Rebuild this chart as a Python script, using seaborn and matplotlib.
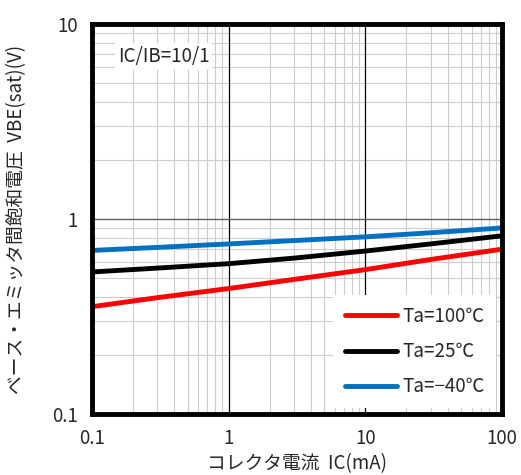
import numpy as np
import pandas as pd
import matplotlib
matplotlib.use('Agg')
import matplotlib.pyplot as plt
import seaborn as sns
from matplotlib.ticker import LogLocator, NullFormatter

# Values
ic_ma = [0.1, 0.3, 1, 3, 10, 30, 100]
vbe_100 = [0.355, 0.395, 0.44, 0.49, 0.55, 0.62, 0.70]
vbe_25 = [0.535, 0.56, 0.59, 0.63, 0.685, 0.745, 0.82]
vbe_m40 = [0.69, 0.715, 0.745, 0.775, 0.81, 0.85, 0.90]
labels = ['Ta=100℃', 'Ta=25℃', 'Ta=−40℃']
colors = ['#ff0000', '#000000', '#0070c0']

df = pd.DataFrame({
    'IC': ic_ma * 3,
    'VBE': vbe_100 + vbe_25 + vbe_m40,
    'Ta': sum([[l] * len(ic_ma) for l in labels], []),
})

sns.set_style('white')
plt.rcParams['font.family'] = ['Noto Sans CJK JP', 'DejaVu Sans']

fig = plt.figure(figsize=(5.21, 4.75), dpi=100)
ax = fig.add_axes([92 / 521, 61 / 475, 410 / 521, 390 / 475])

ax.set_xscale('log')
ax.set_yscale('log')
ax.set_xlim(0.1, 100)
ax.set_ylim(0.1, 10)

# grid
ax.xaxis.set_minor_locator(LogLocator(base=10, subs=np.arange(2, 10)))
ax.yaxis.set_minor_locator(LogLocator(base=10, subs=np.arange(2, 10)))
ax.xaxis.set_minor_formatter(NullFormatter())
ax.yaxis.set_minor_formatter(NullFormatter())
ax.grid(which='minor', color='#cccccc', linewidth=0.8)
for v in [1, 10]:
    ax.axvline(v, color='black', linewidth=0.9, zorder=1)
ax.axhline(1, color='#606060', linewidth=1.0, zorder=1)

sns.lineplot(data=df, x='IC', y='VBE', hue='Ta', palette=colors,
             linewidth=3.5, ax=ax, zorder=3)

ax.set_xticks([0.1, 1, 10, 100])
ax.set_xticklabels(['0.1', '1', '10', '100'])
ax.set_yticks([0.1, 1, 10])
ax.set_yticklabels(['0.1', '1', '10'])
ax.tick_params(which='both', length=0, labelsize=13.5, pad=10)

for s in ax.spines.values():
    s.set_linewidth(3.5)
    s.set_color('black')
    s.set_zorder(5)

ax.set_xlabel('コレクタ電流  IC(mA)', fontsize=13.5, labelpad=3)
ax.set_ylabel('ベース・エミッタ間飽和電圧  VBE(sat)(V)', fontsize=13.5, labelpad=18)

ax.text(0.155, 6.8, 'IC/IB=10/1', fontsize=13.5, ha='left', va='center',
        bbox=dict(facecolor='white', edgecolor='none', pad=2), zorder=4)

leg = ax.legend(loc='lower right', frameon=True, fontsize=13.5, handlelength=2.8,
                labelspacing=0.75, borderaxespad=0.3, borderpad=0.6,
                handletextpad=0.3, fancybox=False)
leg.get_frame().set_edgecolor('none')
leg.get_frame().set_alpha(1)
leg.set_title(None)

fig.savefig('out.png', dpi=100)
